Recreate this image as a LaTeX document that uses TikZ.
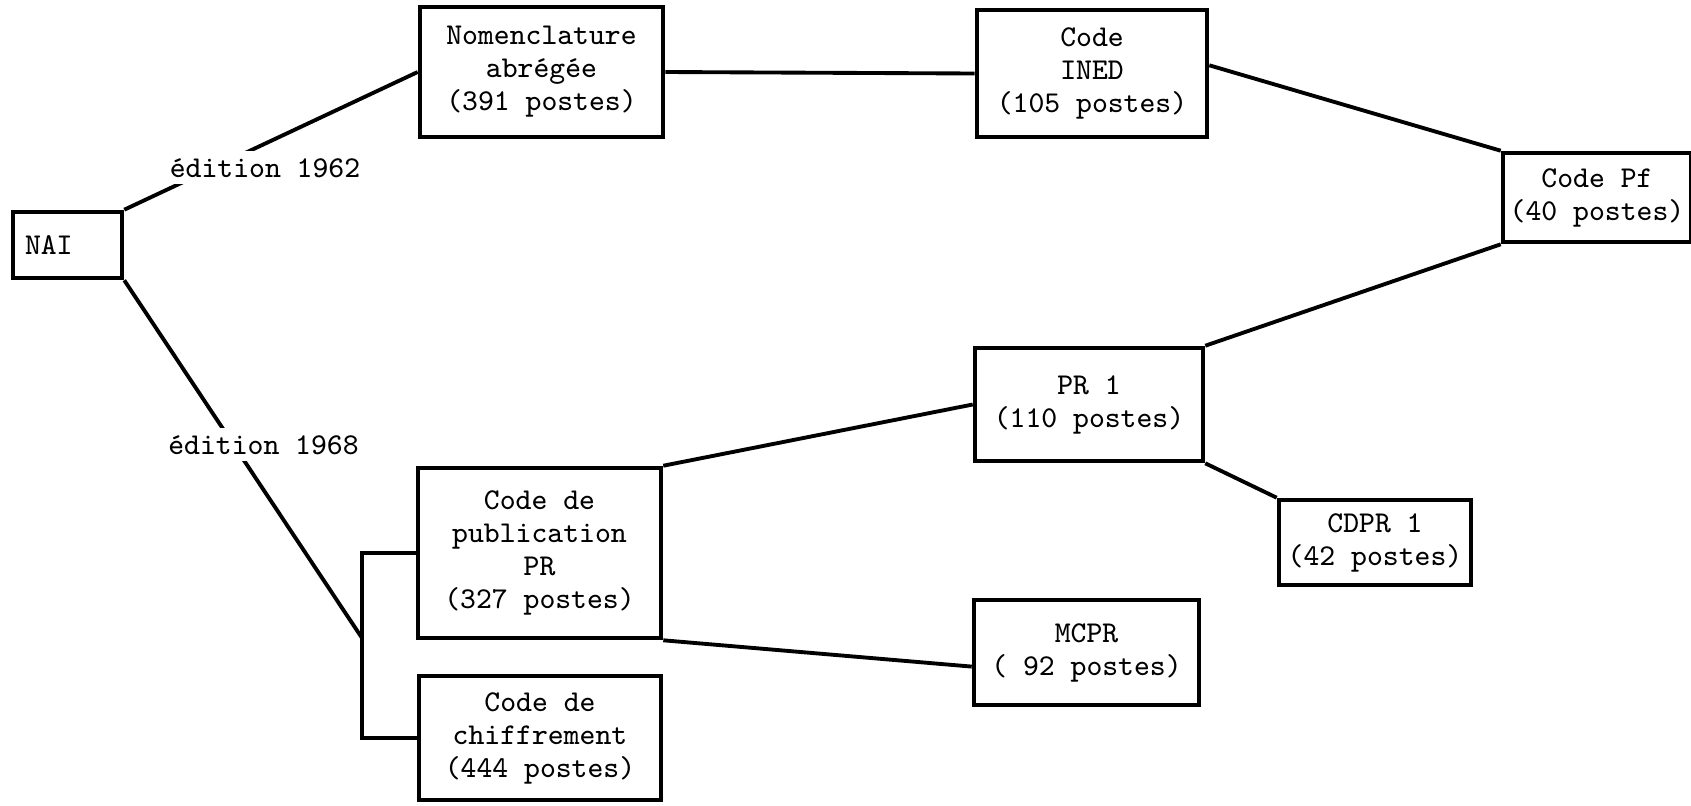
\documentclass[tikz,border=0pt]{standalone}
\begin{document}
\begin{tikzpicture}[font=\ttfamily\fontsize{8.6}{9.4}\selectfont]
                \useasboundingbox (0,0) rectangle (16.91,-8.05);
                \begin{scope}[every node/.style={rectangle,draw,line width=1.3pt,align=center,inner sep=0pt}]
                    \node[minimum width=1.09cm, minimum height=0.66cm, text width=0.85cm, align=left] (nai) at (0.675,-2.45) {NAI};
                    \node[minimum width=2.43cm, minimum height=1.30cm] (nomen) at (5.415,-0.72) {Nomenclature\\abrégée\\(391 postes)};
                    \node[minimum width=2.30cm, minimum height=1.27cm] (ined) at (10.92,-0.735) {Code\\INED\\(105 postes)};
                    \node[minimum width=1.88cm, minimum height=0.89cm] (codepf) at (15.97,-1.975) {Code Pf\\(40 postes)};
                    \node[minimum width=2.28cm, minimum height=1.13cm] (pr1) at (10.89,-4.045) {PR 1\\(110 postes)};
                    \node[minimum width=1.92cm, minimum height=0.85cm] (cdpr) at (13.75,-5.425) {CDPR 1\\(42 postes)};
                    \node[minimum width=2.25cm, minimum height=1.05cm] (mcpr) at (10.865,-6.525) {MCPR\\( 92 postes)};
                    \node[minimum width=2.43cm, minimum height=1.70cm] (pub) at (5.395,-5.53) {Code de\\publication\\PR\\(327 postes)};
                    \node[minimum width=2.42cm, minimum height=1.24cm] (chif) at (5.40,-7.38) {Code de\\chiffrement\\(444 postes)};
                \end{scope}

                \coordinate (brkA) at (3.62,-5.53);
                \coordinate (brkB) at (3.62,-6.38);

                \begin{scope}[every edge/.style={draw,line width=1.1pt}]
                    \path [-] (nai.north east) edge (nomen.west);
                    \path [-] (nai.south east) edge (brkB);
                    \path [-] (nomen.east) edge (ined.west);
                    \path [-] (ined.4) edge (codepf.north west);
                    \path [-] (pr1.north east) edge (codepf.south west);
                    \path [-] (pub.north east) edge (pr1.west);
                    \path [-] (pr1.south east) edge (cdpr.north west);
                    \path [-] (pub.south east) edge (mcpr.187);
                    \draw [line width=1.1pt] (pub.west) -- (brkA) |- (chif.west);
                \end{scope}

                \begin{scope}[every node/.style={fill=white,inner sep=2pt,anchor=base}]
                    \node (ed62) at (2.65,-1.77) {édition 1962};
                    \node (ed68) at (2.635,-4.54) {édition 1968};
                \end{scope}
            \end{tikzpicture}
\end{document}
